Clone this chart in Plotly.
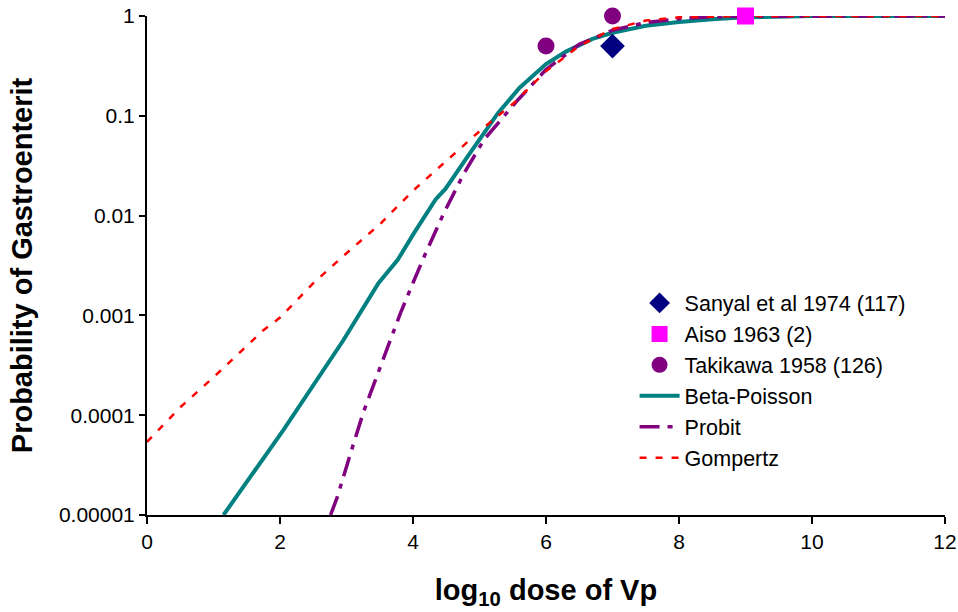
import plotly.graph_objects as go

# Observed data points
sanyal_x = [7]
sanyal_y = [0.5]
aiso_x = [9]
aiso_y = [1.0]
taki_x = [6, 7]
taki_y = [0.5, 1.0]

# Model curves (log10 dose, probability)
bp_x = [1.15, 2.05, 2.95, 3.48, 3.77, 4.01, 4.34, 4.49, 4.82, 5.28, 5.6, 6.0, 6.3, 6.7, 7.0, 7.5, 8.0, 8.5, 9.0, 9.5, 10, 11, 12]
bp_y = [1.0e-5, 7.1e-5, 5.6e-4, 2.1e-3, 3.6e-3, 6.6e-3, 1.45e-2, 1.86e-2, 3.9e-2, 0.107, 0.19, 0.33, 0.44, 0.59, 0.68, 0.80, 0.87, 0.93, 0.97, 0.99, 1.0, 1.0, 1.0]

pr_x = [2.76, 2.86, 3.09, 3.26, 3.47, 3.81, 4.01, 4.19, 4.46, 4.76, 5.07, 5.58, 6.0, 6.5, 7.0, 7.5, 8.0, 8.5, 9.0, 10, 11, 12]
pr_y = [1.0e-5, 1.5e-5, 4.8e-5, 1.1e-4, 2.6e-4, 1.05e-3, 2.2e-3, 4.2e-3, 1.05e-2, 2.6e-2, 5.8e-2, 0.145, 0.29, 0.52, 0.72, 0.86, 0.94, 0.98, 0.995, 1.0, 1.0, 1.0]

gz_x = [0.0, 0.5, 1.0, 1.75, 2.0, 2.5, 3.0, 3.51, 4.01, 4.52, 5.02, 5.52, 6.0, 6.5, 7.0, 7.5, 8.0, 9.0, 10, 11, 12]
gz_y = [5.4e-5, 1.2e-4, 2.4e-4, 7.1e-4, 9.5e-4, 2.1e-3, 4.2e-3, 8.3e-3, 1.8e-2, 3.6e-2, 7.2e-2, 0.135, 0.28, 0.5, 0.74, 0.9, 0.97, 0.999, 1.0, 1.0, 1.0]

x_ticks = [0, 2, 4, 6, 8, 10, 12]
y_ticks = [1e-5, 1e-4, 1e-3, 1e-2, 1e-1, 1]
y_labels = ["0.00001", "0.0001", "0.001", "0.01", "0.1", "1"]

fig = go.Figure()

fig.add_trace(go.Scatter(x=bp_x, y=bp_y, mode="lines", name="Beta-Poisson",
                         line=dict(color="#008080", width=4), cliponaxis=False, legendrank=4))
fig.add_trace(go.Scatter(x=pr_x, y=pr_y, mode="lines", name="Probit",
                         line=dict(color="#800080", width=3.5, dash="20px,8px,5px,8px"),
                         cliponaxis=False, legendrank=5))
fig.add_trace(go.Scatter(x=gz_x, y=gz_y, mode="lines", name="Gompertz",
                         line=dict(color="#FF0000", width=2.5, dash="7px,9px"),
                         cliponaxis=False, legendrank=6))

fig.add_trace(go.Scatter(x=sanyal_x, y=sanyal_y, mode="markers", name="Sanyal et al 1974 (117)",
                         marker=dict(symbol="diamond", size=19, color="#000080"),
                         cliponaxis=False, legendrank=1))
fig.add_trace(go.Scatter(x=aiso_x, y=aiso_y, mode="markers", name="Aiso 1963 (2)",
                         marker=dict(symbol="square", size=17, color="#FF00FF"),
                         cliponaxis=False, legendrank=2))
fig.add_trace(go.Scatter(x=taki_x, y=taki_y, mode="markers", name="Takikawa 1958 (126)",
                         marker=dict(symbol="circle", size=17, color="#800080"),
                         cliponaxis=False, legendrank=3))

font_family = "Liberation Sans, Arial, sans-serif"

fig.update_layout(
    width=958, height=612,
    margin=dict(l=147, r=13, t=16, b=97),
    plot_bgcolor="white", paper_bgcolor="white",
    font=dict(family=font_family, size=21, color="black"),
    showlegend=True,
    legend=dict(x=0.611, y=0.466, xanchor="left", yanchor="top",
                bgcolor="rgba(0,0,0,0)", font=dict(size=21.5, color="black"),
                tracegroupgap=0, itemwidth=40),
    xaxis=dict(range=[0, 12], tickvals=x_ticks, showgrid=False, zeroline=False,
               automargin=False,
               showline=True, linecolor="black", linewidth=2,
               ticks="outside", ticklen=7, tickwidth=2, tickcolor="black",
               tickfont=dict(size=21),
               title=dict(text="<b>log<sub>10</sub> dose of Vp</b>", font=dict(size=29), standoff=27)),
    yaxis=dict(type="log", range=[-5, 0], tickvals=y_ticks, ticktext=y_labels,
               showgrid=False, zeroline=False, automargin=False,
               showline=True, linecolor="black", linewidth=2,
               ticks="outside", ticklen=6, tickwidth=2, tickcolor="black",
               tickfont=dict(size=21),
               title=dict(text="<b>Probability of Gastroenterit</b>", font=dict(size=29), standoff=18)),
)

fig.write_html("out.html")
